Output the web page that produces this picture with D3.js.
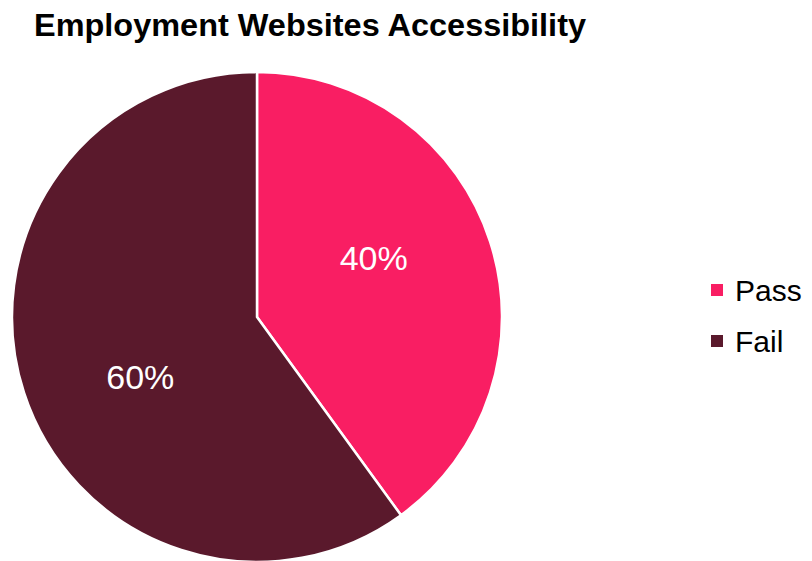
<!DOCTYPE html>
<html>
<head>
<meta charset="utf-8">
<script src="https://cdn.jsdelivr.net/npm/d3@7"></script>
<style>
  html, body { margin: 0; padding: 0; background: #ffffff; }
  svg { display: block; }
</style>
</head>
<body>
<svg id="chart" width="812" height="561"></svg>
<script>
// Share of employment websites passing the accessibility check
const categories = ["Pass", "Fail"];
const values = [40, 60];
const colors = ["#F91E63", "#5A192C"];
const titleText = "Employment Websites Accessibility";

const svg = d3.select("#chart");
const cx = 257, cy = 317, radius = 245;

// Title
svg.append("text")
  .attr("x", 34)
  .attr("y", 35.5)
  .attr("font-family", "Liberation Sans, Arial, sans-serif")
  .attr("font-weight", "bold")
  .attr("font-size", 31)
  .attr("textLength", 552)
  .attr("lengthAdjust", "spacingAndGlyphs")
  .attr("fill", "#000")
  .text(titleText);

const data = categories.map((c, i) => ({ category: c, value: values[i] }));

const pie = d3.pie()
  .value(d => d.value)
  .sort(null);

const arcs = pie(data);

const arc = d3.arc()
  .innerRadius(0)
  .outerRadius(radius);

const color = d3.scaleOrdinal().domain(categories).range(colors);

const g = svg.append("g").attr("transform", `translate(${cx},${cy})`);

g.selectAll("path.slice")
  .data(arcs)
  .join("path")
  .attr("class", "slice")
  .attr("d", arc)
  .attr("fill", d => color(d.data.category))
  .attr("stroke", "#ffffff")
  .attr("stroke-width", 2.5)
  .attr("stroke-linejoin", "round");

// Percentage labels placed inside each slice
const total = d3.sum(values);
const labelRadius = 131;
const labelShift = -9 * Math.PI / 180;
g.selectAll("text.pct")
  .data(arcs)
  .join("text")
  .attr("class", "pct")
  .attr("x", d => labelRadius * Math.sin((d.startAngle + d.endAngle) / 2 + labelShift))
  .attr("y", d => -labelRadius * Math.cos((d.startAngle + d.endAngle) / 2 + labelShift))
  .attr("dy", "0.36em")
  .attr("text-anchor", "middle")
  .attr("font-family", "Liberation Sans, Arial, sans-serif")
  .attr("font-size", 34)
  .attr("fill", "#ffffff")
  .text(d => Math.round(d.data.value / total * 100) + "%");

// Legend
const legend = svg.append("g").attr("transform", "translate(711,290)");
const item = legend.selectAll("g.item")
  .data(categories)
  .join("g")
  .attr("class", "item")
  .attr("transform", (d, i) => `translate(0,${i * 51})`);

item.append("rect")
  .attr("x", 0)
  .attr("y", -6)
  .attr("width", 12)
  .attr("height", 12)
  .attr("fill", d => color(d));

item.append("text")
  .attr("x", 24)
  .attr("y", 0)
  .attr("dy", "0.36em")
  .attr("font-family", "Liberation Sans, Arial, sans-serif")
  .attr("font-size", 30)
  .attr("fill", "#000")
  .text(d => d);
</script>
</body>
</html>
